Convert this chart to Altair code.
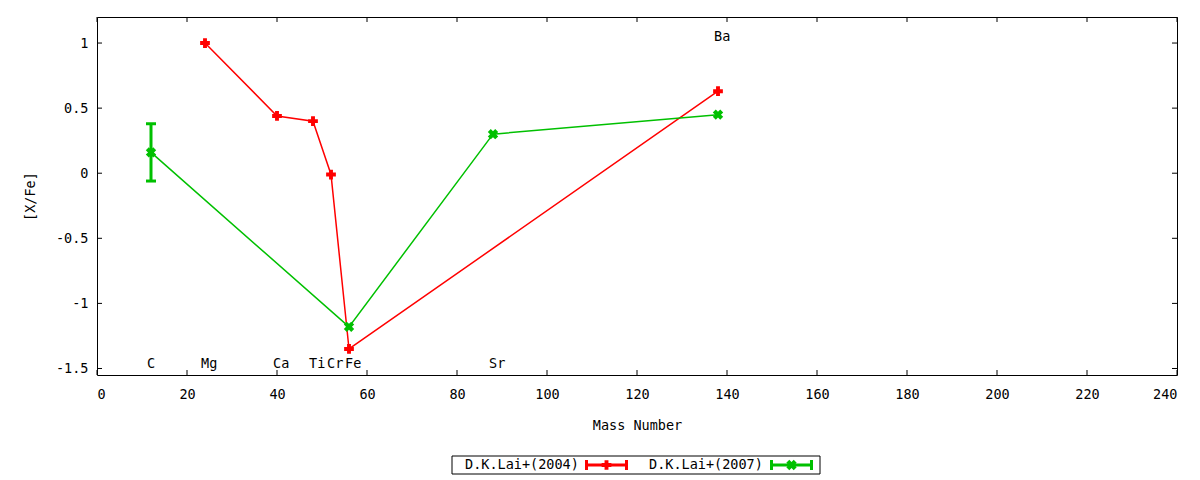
import altair as alt
import pandas as pd

# ---------------- data ----------------
series = ["D.K.Lai+(2004)", "D.K.Lai+(2007)"]
series_colors = ["#ff0000", "#00c000"]

lai04_mass = [24, 40, 48, 52, 56, 138]
lai04_xfe = [1.00, 0.44, 0.40, -0.01, -1.35, 0.63]
lai04_err = [0, 0, 0, 0, 0, 0]

lai07_mass = [12, 56, 88, 138]
lai07_xfe = [0.16, -1.18, 0.30, 0.45]
lai07_err = [0.22, 0, 0, 0]

elements = ["C", "Mg", "Ca", "Ti", "Cr", "Fe", "Sr", "Ba"]
element_mass = [12, 24, 40, 48, 52, 56, 88, 138]
element_label_y = [-1.465, -1.465, -1.465, -1.465, -1.465, -1.465, -1.465, 1.05]

x_ticks = [0, 20, 40, 60, 80, 100, 120, 140, 160, 180, 200, 220, 240]
y_ticks = [-1.5, -1, -0.5, 0, 0.5, 1]
x_domain = [0, 240]
y_domain = [-1.55, 1.2]

# ---------------- layout / style ----------------
W, H = 1080, 358
FONT = "DejaVu Sans Mono"
FS = 13.5
TICK = 5

df04 = pd.DataFrame({"series": series[0], "mass": lai04_mass, "xfe": lai04_xfe, "err": lai04_err})
df07 = pd.DataFrame({"series": series[1], "mass": lai07_mass, "xfe": lai07_xfe, "err": lai07_err})
for d in (df04, df07):
    d["lo"] = d["xfe"] - d["err"]
    d["hi"] = d["xfe"] + d["err"]
err07 = df07[df07["err"] > 0]
caps07 = pd.concat([
    pd.DataFrame({"series": err07["series"], "mass": err07["mass"], "cap": err07["lo"]}),
    pd.DataFrame({"series": err07["series"], "mass": err07["mass"], "cap": err07["hi"]}),
])
labels_df = pd.DataFrame({"el": elements, "mass": element_mass, "ly": element_label_y})
xt_df = pd.DataFrame({"t": x_ticks})
yt_df = pd.DataFrame({"t": y_ticks})

xs = alt.Scale(domain=x_domain, nice=False, zero=False)
ys = alt.Scale(domain=y_domain, nice=False, zero=False)
x_axis = alt.Axis(values=x_ticks, title="Mass Number", ticks=False, domain=False,
                  labelPadding=12, titlePadding=18, format="d")
y_axis = alt.Axis(values=y_ticks, title="[X/Fe]", ticks=False, domain=False,
                  labelPadding=9, titlePadding=18, labelExpr="'' + datum.value")

def X(f):
    return alt.X(f, type="quantitative", scale=xs, axis=x_axis)

def Y(f):
    return alt.Y(f, type="quantitative", scale=ys, axis=y_axis)

RED = alt.value(series_colors[0])
GREEN = alt.value(series_colors[1])

# ---------------- plot layers ----------------
line04 = alt.Chart(df04).mark_line(strokeWidth=1.5).encode(x=X("mass"), y=Y("xfe"), color=RED, order="mass:Q")
pts04 = alt.Chart(df04).mark_point(shape="cross", filled=True, size=95, opacity=1).encode(x=X("mass"), y=Y("xfe"), color=RED)

err_rule07 = alt.Chart(err07).mark_rule(strokeWidth=3).encode(x=X("mass"), y=Y("lo"), y2="hi", color=GREEN)
caps_07 = alt.Chart(caps07).mark_tick(orient="horizontal", size=10, thickness=3, opacity=1).encode(x=X("mass"), y=Y("cap"), color=GREEN)
line07 = alt.Chart(df07).mark_line(strokeWidth=1.5).encode(x=X("mass"), y=Y("xfe"), color=GREEN, order="mass:Q")
pts07 = alt.Chart(df07).mark_point(shape="cross", angle=45, filled=True, size=110, opacity=1).encode(x=X("mass"), y=Y("xfe"), color=GREEN)

labels = alt.Chart(labels_df).mark_text(align="left", baseline="middle", dx=-4, font=FONT, fontSize=FS, color="black").encode(
    x=X("mass"), y=Y("ly"), text="el:N")

tick_l = alt.Chart(yt_df).mark_rule(color="black", strokeWidth=1).encode(y=Y("t"), x=alt.value(0), x2=alt.value(TICK))
tick_r = alt.Chart(yt_df).mark_rule(color="black", strokeWidth=1).encode(y=Y("t"), x=alt.value(W - TICK), x2=alt.value(W))
tick_b = alt.Chart(xt_df).mark_rule(color="black", strokeWidth=1).encode(x=X("t"), y=alt.value(H - TICK), y2=alt.value(H))
tick_t = alt.Chart(xt_df).mark_rule(color="black", strokeWidth=1).encode(x=X("t"), y=alt.value(0), y2=alt.value(TICK))

# ---------------- legend (gnuplot style: label, then sample line with error caps + marker) ----------------
LEG_X0, LEG_X1 = 355, 723        # frame, relative to plot origin
LEG_Y0, LEG_Y1 = 439, 457
LEG_YC = (LEG_Y0 + LEG_Y1) / 2
legend_entries = [
    # (series index, text left, sample start, sample end, marker shape, marker angle, marker size)
    (0, 368, 488, 531, "cross", 0, 95),
    (1, 552, 673, 716, "cross", 45, 110),
]

legend_layers = [
    alt.Chart(pd.DataFrame({"k": [0]})).mark_rect(fill=None, stroke="black", strokeWidth=1).encode(
        x=alt.value(LEG_X0), x2=alt.value(LEG_X1), y=alt.value(LEG_Y0), y2=alt.value(LEG_Y1))
]
for i, tx, s0, s1, shp, ang, sz in legend_entries:
    ldf = pd.DataFrame({"series": [series[i]]})
    col = alt.value(series_colors[i])
    legend_layers += [
        alt.Chart(ldf).mark_text(align="left", baseline="middle", font=FONT, fontSize=FS, color="black").encode(
            x=alt.value(tx), y=alt.value(LEG_YC), text="series:N"),
        alt.Chart(ldf).mark_rule(strokeWidth=3).encode(
            x=alt.value(s0), x2=alt.value(s1), y=alt.value(LEG_YC), color=col),
        alt.Chart(ldf).mark_rule(strokeWidth=3).encode(
            x=alt.value(s0 + 1.5), y=alt.value(LEG_YC - 5), y2=alt.value(LEG_YC + 5), color=col),
        alt.Chart(ldf).mark_rule(strokeWidth=3).encode(
            x=alt.value(s1 - 1.5), y=alt.value(LEG_YC - 5), y2=alt.value(LEG_YC + 5), color=col),
        alt.Chart(ldf).mark_point(shape=shp, angle=ang, filled=True, size=sz, opacity=1).encode(
            x=alt.value((s0 + s1) / 2), y=alt.value(LEG_YC), color=col),
    ]

chart = alt.layer(
    tick_l, tick_r, tick_b, tick_t,
    line04, pts04, err_rule07, caps_07, line07, pts07, labels, *legend_layers,
).properties(
    width=W, height=H,
    autosize=alt.AutoSizeParams(type="none"),
    padding={"left": 89, "top": 9, "right": 15, "bottom": 100},
    background="white",
).configure_view(
    stroke="black", strokeWidth=1,
).configure_axis(
    grid=False, labelFont=FONT, labelFontSize=FS, labelColor="black",
    titleFont=FONT, titleFontSize=FS, titleColor="black", titleFontWeight="normal",
)

chart.save("out.html", embed_options={"renderer": "svg", "actions": False})
